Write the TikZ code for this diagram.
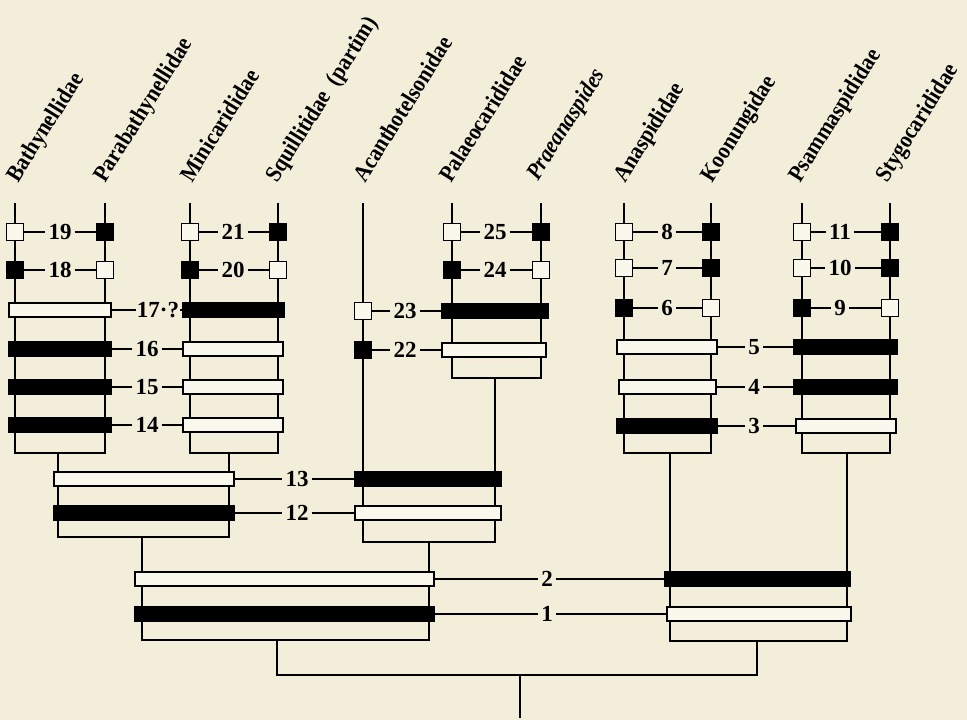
\documentclass[tikz,border=0pt]{standalone}
\usepackage{fontspec}
\setmainfont{Liberation Serif}
\newfontfamily\condfont[FakeStretch=0.9]{Liberation Serif}
\definecolor{paper}{RGB}{243,238,217}
\definecolor{boxfill}{RGB}{250,248,236}
\tikzset{
  taxon/.style={anchor=base west, rotate=58, inner sep=0pt, font=\condfont\fontsize{23.5}{25}\selectfont\bfseries},
  num/.style={inner sep=3pt, font=\fontsize{23}{25}\selectfont\bfseries},
  wbar/.style={draw, line width=2pt, fill=boxfill, minimum height=14pt, inner sep=0pt},
  bbar/.style={draw, line width=2pt, fill=black, minimum height=14pt, inner sep=0pt},
  wsq/.style={draw, line width=1.6pt, fill=boxfill, minimum size=17pt, inner sep=0pt},
  bsq/.style={draw, line width=1.6pt, fill=black, minimum size=17pt, inner sep=0pt},
  tline/.style={line width=2pt},
  conn/.style={line width=1.2pt},
}
\begin{document}
\begin{tikzpicture}[x=1pt,y=-1pt]
\fill[paper] (0,0) rectangle (967,720);
\useasboundingbox (0,0) rectangle (967,720);

% line tops
\coordinate (tBa) at (15,203);
\coordinate (tPa) at (105,203);
\coordinate (tMi) at (190,203);
\coordinate (tSq) at (278,203);
\coordinate (tAc) at (363,203);
\coordinate (tPal) at (452,203);
\coordinate (tPr) at (541,203);
\coordinate (tAn) at (624,203);
\coordinate (tKo) at (711,203);
\coordinate (tPs) at (802,203);
\coordinate (tSt) at (890,203);
% clade stems
\coordinate (bA) at (58,453);
\coordinate (bB) at (229,453);
\coordinate (bAB) at (142,537);
\coordinate (bD) at (495,378);
\coordinate (bCD) at (429,542);
\coordinate (bABCD) at (277,640);
\coordinate (bE) at (670,453);
\coordinate (bF) at (847,453);
\coordinate (bEF) at (757,641);
\coordinate (root) at (520,675);
\coordinate (rootEnd) at (520,718);

% skeleton
\draw[tline] (tBa) |- (bA) -| (tPa);
\draw[tline] (tMi) |- (bB) -| (tSq);
\draw[tline] (bA) |- (bAB) -| (bB);
\draw[tline] (tPal) |- (bD) -| (tPr);
\draw[tline] (tAc) |- (bCD) -| (bD);
\draw[tline] (bAB) |- (bABCD) -| (bCD);
\draw[tline] (tAn) |- (bE) -| (tKo);
\draw[tline] (tPs) |- (bF) -| (tSt);
\draw[tline] (bE) |- (bEF) -| (bF);
\draw[tline] (bABCD) |- (root) -| (bEF);
\draw[tline] (root) -- (rootEnd);

% taxon labels
\node[taxon] (lBa) at (18,184) {Bathynellidae};
\node[taxon] (lPa) at (105,184) {Parabathynellidae};
\node[taxon] (lMi) at (192,184) {Minicarididae};
\node[taxon] (lSq) at (277,184) {Squillitidae\ \ (partim)};
\node[taxon] (lAc) at (365,184) {Acanthotelsonidae};
\node[taxon] (lPal) at (451,184) {Palaeocarididae};
\node[taxon, font=\condfont\fontsize{23.5}{25}\selectfont\bfseries\itshape] (lPr) at (538,182) {Praeanaspides};
\node[taxon] (lAn) at (625,184) {Anaspididae};
\node[taxon] (lKo) at (712,184) {Koonungidae};
\node[taxon] (lPs) at (800,184) {Psammaspididae};
\node[taxon] (lSt) at (887,184) {Stygocarididae};

% squares
\node[wsq] (s19a) at (15,232) {};  \node[bsq] (s19b) at (105,232) {};
\node[bsq] (s18a) at (15,270) {};  \node[wsq] (s18b) at (105,270) {};
\node[wsq] (s21a) at (190,232) {}; \node[bsq] (s21b) at (278,232) {};
\node[bsq] (s20a) at (190,270) {}; \node[wsq] (s20b) at (278,270) {};
\node[wsq] (s25a) at (452,232) {}; \node[bsq] (s25b) at (541,232) {};
\node[bsq] (s24a) at (452,270) {}; \node[wsq] (s24b) at (541,270) {};
\node[wsq] (s23) at (363,311) {};
\node[bsq] (s22) at (363,350) {};
\node[wsq] (s8a) at (624,232) {};  \node[bsq] (s8b) at (711,232) {};
\node[wsq] (s7a) at (624,268) {};  \node[bsq] (s7b) at (711,268) {};
\node[bsq] (s6a) at (624,308) {};  \node[wsq] (s6b) at (711,308) {};
\node[wsq] (s11a) at (802,232) {}; \node[bsq] (s11b) at (890,232) {};
\node[wsq] (s10a) at (802,268) {}; \node[bsq] (s10b) at (890,268) {};
\node[bsq] (s9a) at (802,308) {};  \node[wsq] (s9b) at (890,308) {};

% bars
\node[wbar, minimum width=102pt] (b17A) at (60,310) {};
\node[bbar, minimum width=102pt] (b16A) at (60,349) {};
\node[bbar, minimum width=102pt] (b15A) at (60,387) {};
\node[bbar, minimum width=102pt] (b14A) at (60,425) {};
\node[bbar, minimum width=101pt] (b17B) at (233.5,310) {};
\node[wbar, minimum width=100pt] (b16B) at (233,349) {};
\node[wbar, minimum width=100pt] (b15B) at (233,387) {};
\node[wbar, minimum width=100pt] (b14B) at (233,425) {};
\node[wbar, minimum width=180pt] (b13AB) at (144,479) {};
\node[bbar, minimum width=180pt] (b12AB) at (144,513) {};
\node[bbar, minimum width=106pt] (b23D) at (495,311) {};
\node[wbar, minimum width=104pt] (b22D) at (494,350) {};
\node[bbar, minimum width=146pt] (b13CD) at (428,479) {};
\node[wbar, minimum width=146pt] (b12CD) at (428,513) {};
\node[wbar, minimum width=299pt] (b2L) at (284.5,579) {};
\node[bbar, minimum width=299pt] (b1L) at (284.5,614) {};
\node[wbar, minimum width=100pt] (b5E) at (667,347) {};
\node[wbar, minimum width=97pt] (b4E) at (667.5,387) {};
\node[bbar, minimum width=100pt] (b3E) at (667,426) {};
\node[bbar, minimum width=103pt] (b5F) at (845.5,347) {};
\node[bbar, minimum width=103pt] (b4F) at (845.5,387) {};
\node[wbar, minimum width=100pt] (b3F) at (846,426) {};
\node[bbar, minimum width=185pt] (b2R) at (757.5,579) {};
\node[wbar, minimum width=184pt] (b1R) at (759,614) {};

% numbers
\node[num] (n19) at (60,232) {19};
\node[num] (n18) at (60,270) {18};
\node[num] (n21) at (233,232) {21};
\node[num] (n20) at (233,270) {20};
\node[num, inner sep=1pt] (n17) at (158,310) {17·?};
\node[num] (n16) at (147,349) {16};
\node[num] (n15) at (147,387) {15};
\node[num] (n14) at (147,425) {14};
\node[num] (n13) at (297,479) {13};
\node[num] (n12) at (297,513) {12};
\node[num] (n25) at (495,232) {25};
\node[num] (n24) at (495,270) {24};
\node[num] (n23) at (405,311) {23};
\node[num] (n22) at (405,350) {22};
\node[num] (n8) at (667,232) {8};
\node[num] (n7) at (667,268) {7};
\node[num] (n6) at (667,308) {6};
\node[num] (n11) at (840,232) {11};
\node[num] (n10) at (840,268) {10};
\node[num] (n9) at (840,308) {9};
\node[num] (n5) at (754,347) {5};
\node[num] (n4) at (754,387) {4};
\node[num] (n3) at (754,426) {3};
\node[num] (n2) at (547,579) {2};
\node[num] (n1) at (547,614) {1};

% connectors
\foreach \a/\n/\b in {s19a/n19/s19b, s18a/n18/s18b, s21a/n21/s21b, s20a/n20/s20b,
  b17A/n17/b17B, b16A/n16/b16B, b15A/n15/b15B, b14A/n14/b14B,
  b13AB/n13/b13CD, b12AB/n12/b12CD, s25a/n25/s25b, s24a/n24/s24b,
  s23/n23/b23D, s22/n22/b22D, s8a/n8/s8b, s7a/n7/s7b, s6a/n6/s6b,
  s11a/n11/s11b, s10a/n10/s10b, s9a/n9/s9b, b5E/n5/b5F, b4E/n4/b4F, b3E/n3/b3F,
  b2L/n2/b2R, b1L/n1/b1R}{
  \draw[conn] (\a.east) -- (\n.west);
  \draw[conn] (\n.east) -- (\b.west);
}
\end{tikzpicture}
\end{document}
